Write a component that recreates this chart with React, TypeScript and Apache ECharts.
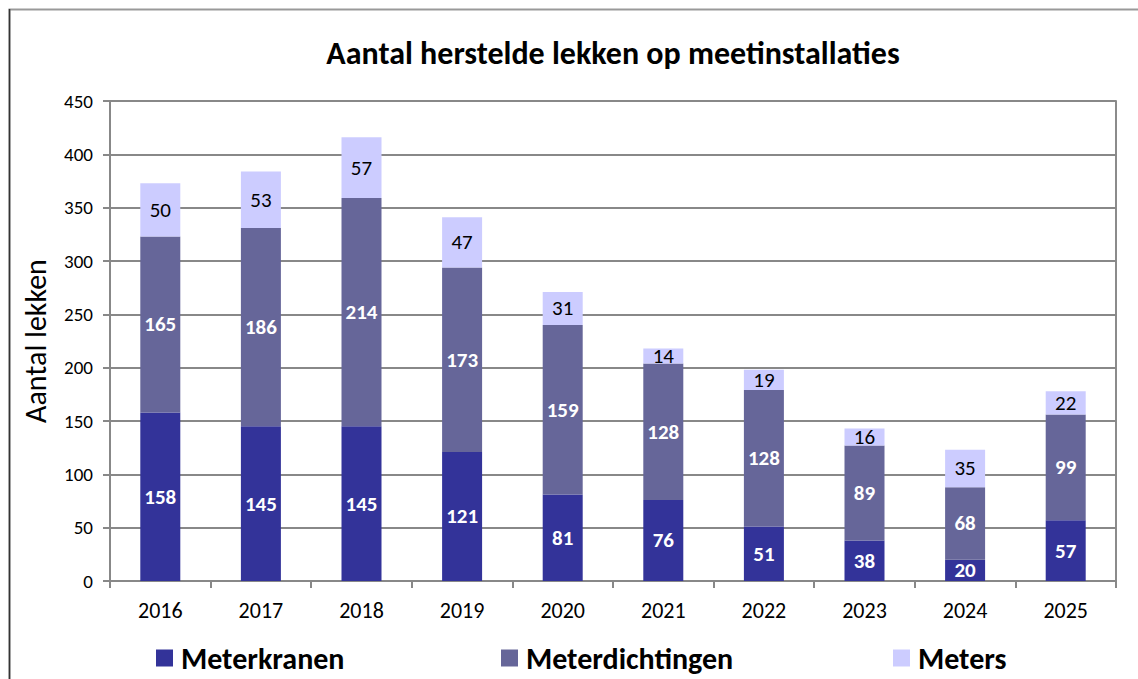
import React, { useEffect, useRef } from "react";
import * as echarts from "echarts";

const years = ["2016", "2017", "2018", "2019", "2020", "2021", "2022", "2023", "2024", "2025"];
const meterkranen = [158, 145, 145, 121, 81, 76, 51, 38, 20, 57];
const meterdichtingen = [165, 186, 214, 173, 159, 128, 128, 89, 68, 99];
const meters = [50, 53, 57, 47, 31, 14, 19, 16, 35, 22];

const FONT = 'Calibri, Carlito, "Open Sans", sans-serif';

export default function App() {
  const ref = useRef<HTMLDivElement>(null);
  useEffect(() => {
    if (!ref.current) return;
    const chart = echarts.init(ref.current, undefined, { renderer: "svg" });
    const legendCommon = {
      orient: "horizontal",
      top: 641,
      padding: 0,
      icon: "rect",
      itemWidth: 17,
      itemHeight: 17,
      itemGap: 10,
      textStyle: {
        fontSize: 30,
        lineHeight: 34,
        fontWeight: "bold",
        color: "#000",
        fontFamily: FONT,
        padding: [0, 0, 0, 3],
      },
    };
    chart.setOption({
      animation: false,
      backgroundColor: "#fff",
      textStyle: { fontFamily: FONT },
      title: {
        text: "Aantal herstelde lekken op meetinstallaties",
        left: 608,
        top: 32,
        textAlign: "center",
        textStyle: { fontSize: 32, fontWeight: "bold", color: "#000", fontFamily: FONT },
      },
      graphic: [
        {
          type: "rect",
          shape: { x: 9.5, y: 9.5, width: 1200, height: 800 },
          style: { fill: "none", stroke: "#999", lineWidth: 2 },
          silent: true,
        },
        {
          type: "line",
          shape: { x1: 9.5, y1: 9, x2: 9.5, y2: 679 },
          style: { stroke: "#333", lineWidth: 1.5 },
          silent: true,
        },
      ],
      legend: [
        { ...legendCommon, left: 156, data: ["Meterkranen"] },
        { ...legendCommon, left: 501, data: ["Meterdichtingen"] },
        { ...legendCommon, left: 893, data: ["Meters"] },
      ],
      grid: {
        left: 110,
        right: 22,
        top: 101,
        bottom: 98,
        show: true,
        borderColor: "#666",
        borderWidth: 1.5,
      },
      xAxis: {
        type: "category",
        data: years,
        axisLine: { lineStyle: { color: "#888", width: 2 } },
        axisTick: { show: true, length: 7, lineStyle: { color: "#888", width: 2 } },
        axisLabel: { fontSize: 22, color: "#000", margin: 18, fontFamily: FONT },
      },
      yAxis: {
        type: "value",
        min: 0,
        max: 450,
        interval: 50,
        name: "Aantal lekken",
        nameLocation: "middle",
        nameGap: 60,
        nameRotate: 90,
        nameTextStyle: { fontSize: 30, color: "#000", fontFamily: FONT },
        axisLine: { show: true, lineStyle: { color: "#888", width: 2 } },
        axisTick: { show: true, length: 7, lineStyle: { color: "#888", width: 2 } },
        axisLabel: { fontSize: 19, color: "#000", margin: 17, fontFamily: FONT },
        splitLine: { lineStyle: { color: "#888", width: 2 } },
      },
      series: [
        {
          name: "Meterkranen",
          type: "bar",
          stack: "total",
          barWidth: 40,
          data: meterkranen,
          itemStyle: { color: "#333399" },
          label: { show: true, position: "inside", color: "#fff", fontWeight: "bold", fontSize: 21, fontFamily: FONT },
        },
        {
          name: "Meterdichtingen",
          type: "bar",
          stack: "total",
          barWidth: 40,
          data: meterdichtingen,
          itemStyle: { color: "#666699" },
          label: { show: true, position: "inside", color: "#fff", fontWeight: "bold", fontSize: 21, fontFamily: FONT },
        },
        {
          name: "Meters",
          type: "bar",
          stack: "total",
          barWidth: 40,
          data: meters,
          itemStyle: { color: "#CCCCFF" },
          label: { show: true, position: "inside", color: "#000", fontSize: 21, fontFamily: FONT },
        },
      ],
    });
    return () => chart.dispose();
  }, []);
  return (
    <div
      ref={ref}
      style={{ position: "absolute", left: 0, top: 0, width: 1138, height: 679 }}
    />
  );
}
